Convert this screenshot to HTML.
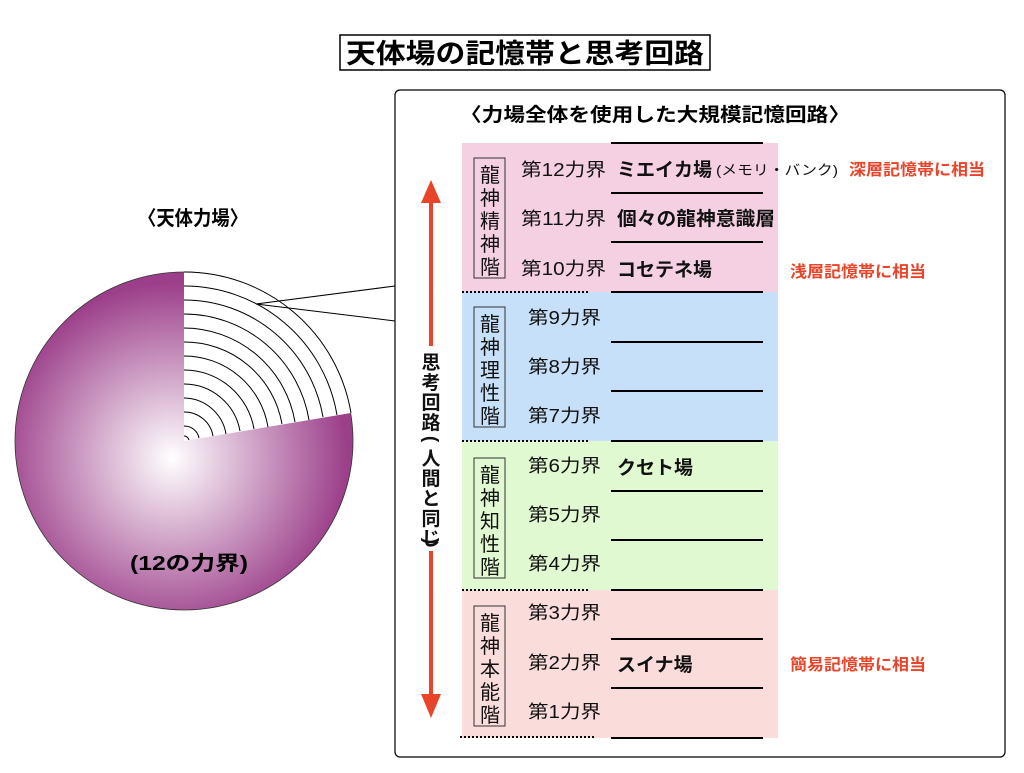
<!DOCTYPE html>
<html><head><meta charset="utf-8"><style>
body{margin:0;background:#fff;}
svg text{font-family:"Liberation Sans","Noto Sans CJK JP",sans-serif;}
</style></head><body>
<svg width="1024" height="768" viewBox="0 0 1024 768" xmlns="http://www.w3.org/2000/svg">
<defs>
<radialGradient id="g" cx="172" cy="458" r="175" gradientUnits="userSpaceOnUse">
<stop offset="0" stop-color="#ffffff"/><stop offset="1" stop-color="#9c3f8a"/>
</radialGradient>
</defs>
<rect x="340" y="35" width="370" height="35" fill="#fff" stroke="#000" stroke-width="1.5"/>
<text x="525" y="63" font-size="27" font-weight="bold" text-anchor="middle" textLength="358" lengthAdjust="spacingAndGlyphs">天体場の記憶帯と思考回路</text>
<rect x="395" y="90" width="610" height="667" rx="5" fill="#fff" stroke="#000" stroke-width="1.2"/>
<text x="655" y="121" font-size="19" font-weight="bold" text-anchor="middle" textLength="390" lengthAdjust="spacingAndGlyphs">〈力場全体を使用した大規模記憶回路〉</text>
<text x="193" y="225" font-size="20" font-weight="bold" text-anchor="middle" textLength="110" lengthAdjust="spacingAndGlyphs">〈天体力場〉</text>
<!-- pie -->
<circle cx="184" cy="441" r="169" fill="url(#g)" stroke="#333" stroke-width="0.8"/>
<path d="M184,441 L184,272 A169,169 0 0 1 351,413 Z" fill="#fff"/>
<g fill="none" stroke="#000" stroke-width="1">
<path d="M184,272 A169,169 0 0 1 351,413"/>
<path d="M184,286 A155,155 0 0 1 337,415"/>
<path d="M184,300 A141,141 0 0 1 323,417"/>
<path d="M184,314 A127,127 0 0 1 309,420"/>
<path d="M184,328 A113,113 0 0 1 295,422"/>
<path d="M184,342 A99,99 0 0 1 282,424"/>
<path d="M184,356 A85,85 0 0 1 268,427"/>
<path d="M184,370 A71,71 0 0 1 254,429"/>
<path d="M184,384 A57,57 0 0 1 240,431"/>
<path d="M184,398 A43,43 0 0 1 226,434"/>
<path d="M184,412 A29,29 0 0 1 213,436"/>
<path d="M184,426 A15,15 0 0 1 199,438"/>
<path d="M184,436 A5,5 0 0 1 189,440"/>
<path d="M395,286 L256,304 L395,321"/>
</g>
<text x="189" y="570" font-size="20" font-weight="bold" text-anchor="middle" textLength="118" lengthAdjust="spacingAndGlyphs">(12の力界)</text>
<!-- bands -->
<rect x="462" y="143" width="316" height="149" fill="#f4d0e2"/>
<rect x="462" y="292" width="316" height="149" fill="#c7e0fa"/>
<rect x="462" y="441" width="316" height="149" fill="#e1f9d0"/>
<rect x="462" y="590" width="316" height="148" fill="#fadcdb"/>
<g stroke="#000" stroke-width="2">
<line x1="611" x2="763" y1="143" y2="143"/><line x1="611" x2="763" y1="193" y2="193"/>
<line x1="611" x2="763" y1="242" y2="242"/><line x1="611" x2="763" y1="292" y2="292"/>
<line x1="611" x2="763" y1="342" y2="342"/><line x1="611" x2="763" y1="391" y2="391"/>
<line x1="611" x2="763" y1="441" y2="441"/><line x1="611" x2="763" y1="491" y2="491"/>
<line x1="611" x2="763" y1="540" y2="540"/><line x1="611" x2="763" y1="590" y2="590"/>
<line x1="611" x2="763" y1="639" y2="639"/><line x1="611" x2="763" y1="688" y2="688"/>
<line x1="611" x2="763" y1="738" y2="738"/>
</g>
<g stroke="#000" stroke-width="2" stroke-dasharray="2,2">
<line x1="462" x2="588" y1="292" y2="292"/><line x1="462" x2="588" y1="441" y2="441"/>
<line x1="462" x2="588" y1="590" y2="590"/><line x1="460" x2="594" y1="737" y2="737"/>
</g>
<g fill="none" stroke="#333" stroke-width="1">
<rect x="474" y="158" width="31" height="120"/>
<rect x="474" y="307" width="31" height="120"/>
<rect x="474" y="458" width="31" height="120"/>
<rect x="474" y="606" width="31" height="120"/>
</g>
<g font-size="20" text-anchor="middle" fill="#111">
<text x="490" y="182">龍</text><text x="490" y="205">神</text><text x="490" y="228">精</text><text x="490" y="251">神</text><text x="490" y="274">階</text>
<text x="490" y="331">龍</text><text x="490" y="354">神</text><text x="490" y="377">理</text><text x="490" y="400">性</text><text x="490" y="423">階</text>
<text x="490" y="482">龍</text><text x="490" y="505">神</text><text x="490" y="528">知</text><text x="490" y="551">性</text><text x="490" y="574">階</text>
<text x="490" y="630">龍</text><text x="490" y="653">神</text><text x="490" y="676">本</text><text x="490" y="699">能</text><text x="490" y="722">階</text>
</g>
<g font-size="18" fill="#111">
<text x="521" y="176" textLength="85" lengthAdjust="spacingAndGlyphs">第12力界</text><text x="521" y="225" textLength="85" lengthAdjust="spacingAndGlyphs">第11力界</text><text x="521" y="275" textLength="85" lengthAdjust="spacingAndGlyphs">第10力界</text>
<text x="528" y="324" textLength="73" lengthAdjust="spacingAndGlyphs">第9力界</text><text x="528" y="373" textLength="73" lengthAdjust="spacingAndGlyphs">第8力界</text><text x="528" y="422" textLength="73" lengthAdjust="spacingAndGlyphs">第7力界</text>
<text x="528" y="472" textLength="73" lengthAdjust="spacingAndGlyphs">第6力界</text><text x="528" y="521" textLength="73" lengthAdjust="spacingAndGlyphs">第5力界</text><text x="528" y="570" textLength="73" lengthAdjust="spacingAndGlyphs">第4力界</text>
<text x="528" y="619" textLength="73" lengthAdjust="spacingAndGlyphs">第3力界</text><text x="528" y="669" textLength="73" lengthAdjust="spacingAndGlyphs">第2力界</text><text x="528" y="718" textLength="73" lengthAdjust="spacingAndGlyphs">第1力界</text>
</g>
<g font-size="19" font-weight="bold" fill="#111">
<text x="617" y="176">ミエイカ場</text><text x="617" y="225" textLength="158" lengthAdjust="spacingAndGlyphs">個々の龍神意識層</text><text x="617" y="276">コセテネ場</text>
<text x="617" y="474">クセト場</text><text x="617" y="671">スイナ場</text>
</g>
<text x="716" y="175" font-size="14" fill="#111" textLength="122" lengthAdjust="spacingAndGlyphs">(メモリ・バンク)</text>
<g font-size="16" font-weight="bold" fill="#e8442a">
<text x="849" y="175" textLength="136" lengthAdjust="spacingAndGlyphs">深層記憶帯に相当</text>
<text x="790" y="277" textLength="136" lengthAdjust="spacingAndGlyphs">浅層記憶帯に相当</text>
<text x="790" y="670" textLength="136" lengthAdjust="spacingAndGlyphs">簡易記憶帯に相当</text>
</g>
<!-- arrow -->
<g fill="#e8442a">
<rect x="429" y="198" width="4" height="148"/>
<polygon points="431,180 421,203 441,203"/>
<rect x="429" y="551" width="4" height="145"/>
<polygon points="431,718 421,694 441,694"/>
</g>
<g font-size="19" font-weight="bold" text-anchor="middle" fill="#111">
<text x="431" y="369">思</text><text x="431" y="389">考</text><text x="431" y="409">回</text><text x="431" y="429">路</text>
<text x="431" y="445" transform="rotate(90 431 439)">(</text>
<text x="431" y="465">人</text><text x="431" y="485">間</text><text x="431" y="505">と</text><text x="431" y="525">同</text><text x="431" y="545">じ</text>
<text x="431" y="547" transform="rotate(90 431 541)">)</text>
</g>
</svg>
</body></html>
